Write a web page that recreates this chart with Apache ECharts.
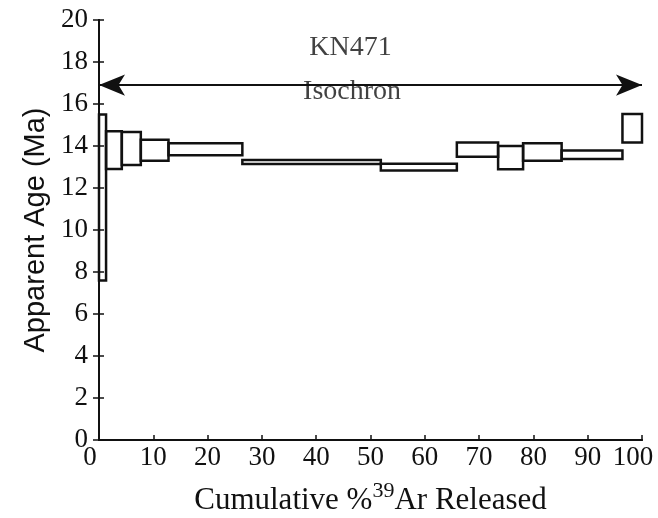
<!DOCTYPE html>
<html>
<head>
<meta charset="utf-8">
<script src="https://cdn.jsdelivr.net/npm/echarts@6/dist/echarts.min.js"></script>
<style>
html,body{margin:0;padding:0;background:#fff;}
#chart{width:658px;height:518px;}
</style>
</head>
<body>
<div id="chart"></div>
<script>
// Cumulative %39Ar boundaries of each heating step
var cumX = [0, 1.3, 4.2, 7.7, 12.8, 26.4, 51.9, 65.9, 73.5, 78.1, 85.2, 96.4, 100];
// Lower and upper apparent ages (Ma) of each step box
var ageLow  = [7.6, 12.9, 13.1, 13.3, 13.56, 13.14, 12.83, 13.49, 12.89, 13.3, 13.38, 14.17];
var ageHigh = [15.5, 14.7, 14.67, 14.3, 14.13, 13.33, 13.15, 14.17, 14.0, 14.13, 13.78, 15.52];
// Isochron arrow span and level
var isoSpan = [0, 100];
var isoAge = 16.9;
var sampleName = 'KN471';

var boxData = [];
for (var i = 0; i < ageLow.length; i++) {
  boxData.push([cumX[i], cumX[i+1], ageLow[i], ageHigh[i]]);
}

var ink = '#111';
var serif = '"Liberation Serif","Times New Roman",serif';

var chart = echarts.init(document.getElementById('chart'));
chart.setOption({
  animation: false,
  backgroundColor: '#fff',
  grid: {left: 99, right: 16, top: 20, bottom: 78, containLabel: false, outerBoundsMode: 'none'},
  xAxis: [{
    type: 'value', min: 0, max: 100, interval: 10, position: 'bottom',
    name: '{a|Cumulative %}{s|39}{a|Ar Released}',
    nameLocation: 'middle', nameGap: 40,
    nameTextStyle: {
      rich: {
        a: {fontFamily: serif, fontSize: 31, color: ink, verticalAlign: 'bottom', lineHeight: 36},
        s: {fontFamily: serif, fontSize: 22, color: ink, verticalAlign: 'top', lineHeight: 36, padding: [0,0,16,0]}
      }
    },
    axisLine: {lineStyle: {color: ink, width: 2}},
    axisTick: {inside: true, length: 5, lineStyle: {color: ink, width: 1.5}},
    axisLabel: {
      fontFamily: serif, fontSize: 27, color: ink, margin: 4, hideOverlap: false,
      formatter: function (v) {
        if (v === 0) return '{l|0}';
        if (v === 100) return '{r|100}';
        return String(v);
      },
      rich: {
        l: {fontFamily: serif, fontSize: 27, color: ink, padding: [0, 18, 0, 0]},
        r: {fontFamily: serif, fontSize: 27, color: ink, padding: [0, 18, 0, 0]}
      }
    },
    splitLine: {show: false}
  }, {
    type: 'value', min: 0, max: 100, position: 'top',
    axisLine: {show: true, lineStyle: {color: ink, width: 2}},
    axisTick: {show: false}, axisLabel: {show: false}, splitLine: {show: false}
  }],
  yAxis: [{
    type: 'value', min: 0, max: 20, interval: 2, position: 'left',
    name: 'Apparent Age (Ma)', nameLocation: 'middle', nameGap: 47,
    nameTextStyle: {fontFamily: '"Liberation Sans",Arial,sans-serif', fontSize: 29, color: ink},
    axisLine: {lineStyle: {color: ink, width: 2}},
    axisTick: {length: 6, lineStyle: {color: ink, width: 1.5}},
    axisLabel: {fontFamily: serif, fontSize: 27, color: ink, margin: 11},
    splitLine: {show: false}
  }, {
    type: 'value', min: 0, max: 20, interval: 2, position: 'right',
    axisLine: {show: true, lineStyle: {color: ink, width: 2}},
    axisTick: {show: true, length: 5, lineStyle: {color: ink, width: 1.5}},
    axisLabel: {show: false}, splitLine: {show: false}
  }],
  series: [{
    type: 'custom',
    xAxisIndex: 0, yAxisIndex: 0,
    data: boxData,
    encode: {x: [0, 1], y: [2, 3]},
    clip: false,
    renderItem: function (params, api) {
      var p0 = api.coord([api.value(0), api.value(3)]);
      var p1 = api.coord([api.value(1), api.value(2)]);
      return {
        type: 'rect',
        shape: {x: p0[0], y: p0[1], width: p1[0] - p0[0], height: p1[1] - p0[1]},
        style: {fill: 'none', stroke: ink, lineWidth: 2.5}
      };
    }
  }, {
    type: 'line',
    xAxisIndex: 0, yAxisIndex: 0,
    data: [],
    markLine: {
      silent: true,
      symbol: ['arrow', 'arrow'],
      symbolSize: [16, 26],
      lineStyle: {color: ink, width: 2, type: 'solid'},
      label: {show: false},
      data: [[{coord: [isoSpan[0], isoAge]}, {coord: [isoSpan[1], isoAge]}]]
    }
  }, {
    type: 'scatter',
    xAxisIndex: 0, yAxisIndex: 0,
    symbolSize: 0,
    data: [[46.6, isoAge]],
    label: {
      show: true, position: 'inside', formatter: 'Isochron',
      fontFamily: serif, fontSize: 28, color: ink,
      backgroundColor: '#fff', padding: [0, 2], offset: [0, 7]
    }
  }, {
    type: 'scatter',
    xAxisIndex: 0, yAxisIndex: 0,
    symbolSize: 0,
    data: [[46.3, 18.7]],
    label: {
      show: true, position: 'inside', formatter: sampleName,
      fontFamily: serif, fontSize: 28, color: ink
    }
  }]
});
</script>
</body>
</html>
